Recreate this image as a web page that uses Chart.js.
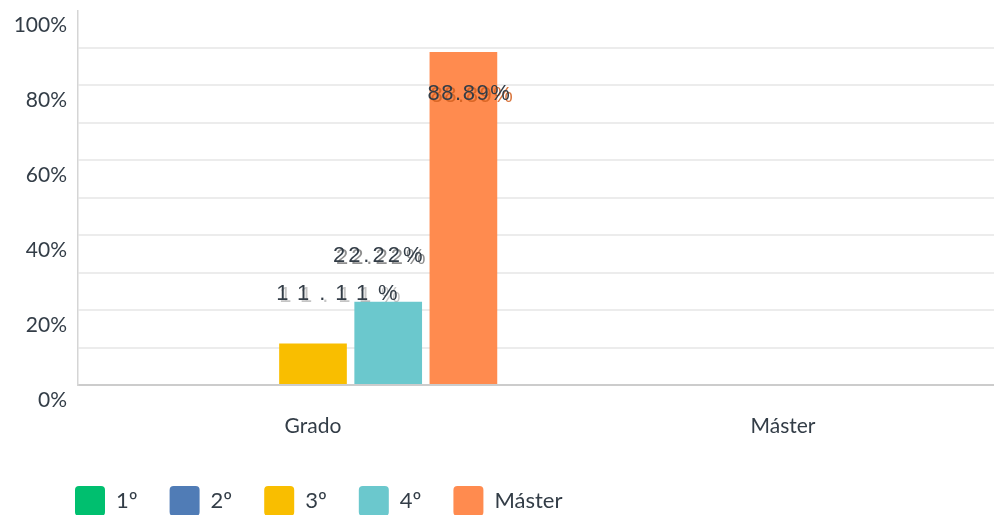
<!DOCTYPE html>
<html><head><meta charset="utf-8">
<script src="https://cdn.jsdelivr.net/npm/chart.js@4.4.0/dist/chart.umd.min.js"></script>
<style>
html,body{margin:0;padding:0;overflow:hidden;background:#fff;}
#wrap{width:994px;height:515px;overflow:hidden;position:relative;}
canvas{display:block;}
</style></head><body>
<div id="wrap"><canvas id="c" width="1018" height="526"></canvas></div>
<script>
// ---- data ----
const categories = ['Grado', 'Máster'];
const seriesNames = ['1º', '2º', '3º', '4º', 'Máster'];
const serie1 = [0, 0];
const serie2 = [0, 0];
const serie3 = [11.11, 0];
const serie4 = [22.22, 0];
const serie5 = [88.89, 0];
const yTickLabels = ['0%', '20%', '40%', '60%', '80%', '100%'];

// ---- styling ----
const colors = ['#00BF6F', '#507CB6', '#F9BE00', '#6BC8CD', '#FF8B4F'];
const textColor = '#333d47';
const seriesValues = [serie1, serie2, serie3, serie4, serie5];
const legendShift = 43;

const labelStyle = [
  {dx: 0, dy: 0, ls: 3, shadow: 'rgba(90,90,90,0.55)'},
  {dx: 0, dy: 0, ls: 3, shadow: 'rgba(90,90,90,0.55)'},
  {dx: 29, dy: -49, ls: 10, shadow: 'rgba(90,90,90,0.35)'},
  {dx: -9, dy: -46, ls: 3, shadow: 'rgba(70,70,70,0.6)'},
  {dx: 6, dy: 42, ls: 1.5, shadow: 'rgba(210,95,30,0.85)'}
];

const valueLabels = {
  id: 'valueLabels',
  afterLayout(chart) {
    if (chart.legend) { chart.legend.left += legendShift; }
  },
  afterDatasetsDraw(chart) {
    const ctx = chart.ctx;
    chart.data.datasets.forEach((ds, di) => {
      const meta = chart.getDatasetMeta(di);
      const st = labelStyle[di];
      meta.data.forEach((bar, i) => {
        const v = ds.data[i];
        if (!v) return;
        const text = v.toFixed(2) + '%';
        const x = bar.x + st.dx, y = bar.y + st.dy;
        ctx.save();
        ctx.font = '22px "Liberation Sans"';
        ctx.letterSpacing = st.ls + 'px';
        ctx.textAlign = 'center';
        ctx.textBaseline = 'middle';
        ctx.fillStyle = st.shadow;
        ctx.fillText(text, x + 3, y + 2);
        ctx.fillStyle = textColor;
        ctx.fillText(text, x, y);
        ctx.restore();
      });
    });
  }
};

new Chart(document.getElementById('c'), {
  type: 'bar',
  data: {
    labels: categories,
    datasets: seriesNames.map((n, i) => ({
      label: n,
      data: seriesValues[i],
      backgroundColor: colors[i],
      borderWidth: 0
    }))
  },
  options: {
    responsive: false,
    animation: false,
    layout: {padding: {left: 0, top: 0, right: 0, bottom: 0}},
    scales: {
      x: {
        grid: {display: false, drawTicks: false},
        border: {color: '#cccccc', width: 2},
        ticks: {padding: 29, color: textColor, font: {family: 'Lato', size: 21}},
        afterFit: s => { s.height = 69; }
      },
      y: {
        min: 0, max: 100,
        afterFit: s => { s.width = 78; },
        border: {color: '#d5d5d5', width: 1.5},
        grid: {
          drawTicks: true,
          tickLength: 11,
          tickColor: 'rgba(0,0,0,0)',
          lineWidth: 2,
          color: c => (c.tick && (c.tick.value === 100 || c.tick.value === 0)) ? 'rgba(0,0,0,0)' : '#ececec'
        },
        ticks: {
          stepSize: 10, autoSkip: false, padding: 0, labelOffset: 15,
          color: textColor, font: {family: 'Lato', size: 21, lineHeight: 1.0},
          callback: v => (v % 20 === 0) ? yTickLabels[v / 20] : ''
        }
      }
    },
    plugins: {
      tooltip: {enabled: false},
      legend: {
        position: 'bottom', align: 'start',
        labels: {
          boxWidth: 30, boxHeight: 30, padding: 32,
          useBorderRadius: true, borderRadius: 4,
          color: textColor, font: {family: 'Lato', size: 22}
        }
      }
    }
  },
  plugins: [valueLabels]
});
</script>
</body></html>
